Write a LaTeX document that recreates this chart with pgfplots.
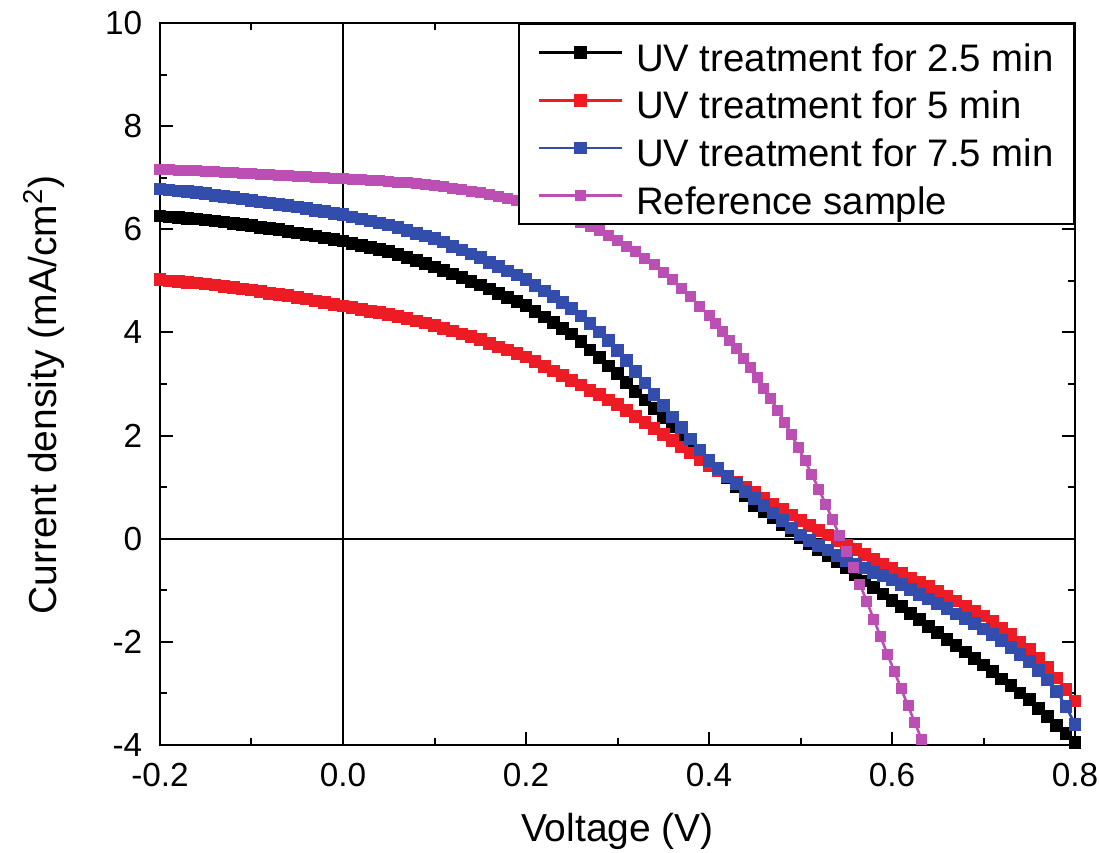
\documentclass[border=0pt]{standalone}
\usepackage{fontspec}
\setmainfont{Liberation Sans}
\usepackage{pgfplots}
\pgfplotsset{compat=1.18}
\definecolor{cRed}{RGB}{237,28,36}
\definecolor{cBlue}{RGB}{51,77,173}
\definecolor{cPurple}{RGB}{187,79,179}

\pgfplotstableread{
x y
-0.20 6.26
-0.19 6.24
-0.18 6.23
-0.17 6.21
-0.16 6.20
-0.15 6.18
-0.14 6.16
-0.13 6.14
-0.12 6.11
-0.11 6.09
-0.10 6.07
-0.09 6.04
-0.08 6.01
-0.07 5.99
-0.06 5.96
-0.05 5.93
-0.04 5.90
-0.03 5.87
-0.02 5.83
-0.01 5.80
0.00 5.77
0.01 5.73
0.02 5.69
0.03 5.65
0.04 5.61
0.05 5.57
0.06 5.51
0.07 5.45
0.08 5.39
0.09 5.33
0.10 5.27
0.11 5.20
0.12 5.13
0.13 5.06
0.14 4.99
0.15 4.92
0.16 4.84
0.17 4.76
0.18 4.68
0.19 4.60
0.20 4.52
0.21 4.41
0.22 4.30
0.23 4.19
0.24 4.08
0.25 3.97
0.26 3.82
0.27 3.66
0.28 3.51
0.29 3.35
0.30 3.20
0.31 3.03
0.32 2.86
0.33 2.69
0.34 2.52
0.35 2.35
0.36 2.18
0.37 2.02
0.38 1.85
0.39 1.69
0.40 1.52
0.41 1.35
0.42 1.18
0.43 1.00
0.44 0.83
0.45 0.65
0.46 0.52
0.47 0.40
0.48 0.27
0.49 0.15
0.50 0.02
0.51 -0.10
0.52 -0.22
0.53 -0.33
0.54 -0.45
0.55 -0.57
0.56 -0.70
0.57 -0.82
0.58 -0.95
0.59 -1.07
0.60 -1.20
0.61 -1.32
0.62 -1.45
0.63 -1.57
0.64 -1.70
0.65 -1.82
0.66 -1.95
0.67 -2.07
0.68 -2.20
0.69 -2.32
0.70 -2.45
0.71 -2.58
0.72 -2.72
0.73 -2.85
0.74 -2.99
0.75 -3.12
0.76 -3.29
0.77 -3.45
0.78 -3.62
0.79 -3.78
0.80 -3.95
}\tblack

\pgfplotstableread{
x y
-0.20 5.02
-0.19 5.00
-0.18 4.99
-0.17 4.97
-0.16 4.96
-0.15 4.94
-0.14 4.92
-0.13 4.89
-0.12 4.87
-0.11 4.84
-0.10 4.82
-0.09 4.79
-0.08 4.76
-0.07 4.74
-0.06 4.71
-0.05 4.68
-0.04 4.65
-0.03 4.61
-0.02 4.58
-0.01 4.54
0.00 4.51
0.01 4.48
0.02 4.45
0.03 4.41
0.04 4.38
0.05 4.35
0.06 4.31
0.07 4.27
0.08 4.22
0.09 4.18
0.10 4.14
0.11 4.08
0.12 4.03
0.13 3.97
0.14 3.92
0.15 3.86
0.16 3.79
0.17 3.72
0.18 3.66
0.19 3.59
0.20 3.52
0.21 3.43
0.22 3.34
0.23 3.25
0.24 3.16
0.25 3.07
0.26 2.98
0.27 2.88
0.28 2.79
0.29 2.69
0.30 2.60
0.31 2.48
0.32 2.37
0.33 2.25
0.34 2.14
0.35 2.02
0.36 1.90
0.37 1.78
0.38 1.66
0.39 1.54
0.40 1.42
0.41 1.31
0.42 1.21
0.43 1.10
0.44 1.00
0.45 0.89
0.46 0.78
0.47 0.67
0.48 0.57
0.49 0.46
0.50 0.35
0.51 0.26
0.52 0.16
0.53 0.07
0.54 -0.03
0.55 -0.12
0.56 -0.21
0.57 -0.30
0.58 -0.40
0.59 -0.49
0.60 -0.58
0.61 -0.67
0.62 -0.76
0.63 -0.84
0.64 -0.93
0.65 -1.02
0.66 -1.12
0.67 -1.21
0.68 -1.31
0.69 -1.40
0.70 -1.50
0.71 -1.61
0.72 -1.73
0.73 -1.86
0.74 -2.00
0.75 -2.15
0.76 -2.32
0.77 -2.50
0.78 -2.70
0.79 -2.92
0.80 -3.15
}\tred

\pgfplotstableread{
x y
-0.20 6.78
-0.19 6.76
-0.18 6.74
-0.17 6.73
-0.16 6.71
-0.15 6.69
-0.14 6.66
-0.13 6.64
-0.12 6.61
-0.11 6.59
-0.10 6.56
-0.09 6.53
-0.08 6.51
-0.07 6.48
-0.06 6.46
-0.05 6.43
-0.04 6.40
-0.03 6.37
-0.02 6.34
-0.01 6.31
0.00 6.28
0.01 6.24
0.02 6.20
0.03 6.16
0.04 6.12
0.05 6.08
0.06 6.03
0.07 5.98
0.08 5.92
0.09 5.87
0.10 5.82
0.11 5.75
0.12 5.67
0.13 5.60
0.14 5.52
0.15 5.45
0.16 5.36
0.17 5.28
0.18 5.19
0.19 5.11
0.20 5.02
0.21 4.91
0.22 4.80
0.23 4.69
0.24 4.58
0.25 4.46
0.26 4.32
0.27 4.17
0.28 4.01
0.29 3.84
0.30 3.65
0.31 3.45
0.32 3.24
0.33 3.02
0.34 2.80
0.35 2.58
0.36 2.36
0.37 2.15
0.38 1.93
0.39 1.72
0.40 1.52
0.41 1.36
0.42 1.21
0.43 1.07
0.44 0.92
0.45 0.78
0.46 0.64
0.47 0.50
0.48 0.35
0.49 0.21
0.50 0.07
0.51 -0.03
0.52 -0.13
0.53 -0.22
0.54 -0.32
0.55 -0.42
0.56 -0.50
0.57 -0.57
0.58 -0.65
0.59 -0.72
0.60 -0.80
0.61 -0.89
0.62 -0.98
0.63 -1.08
0.64 -1.17
0.65 -1.26
0.66 -1.36
0.67 -1.46
0.68 -1.55
0.69 -1.65
0.70 -1.75
0.71 -1.86
0.72 -1.98
0.73 -2.11
0.74 -2.24
0.75 -2.38
0.76 -2.55
0.77 -2.74
0.78 -2.96
0.79 -3.25
0.80 -3.60
}\tblue

\pgfplotstableread{
x y
-0.20 7.15
-0.19 7.15
-0.18 7.14
-0.17 7.14
-0.16 7.13
-0.15 7.12
-0.14 7.12
-0.13 7.11
-0.12 7.10
-0.11 7.09
-0.10 7.08
-0.09 7.07
-0.08 7.06
-0.07 7.05
-0.06 7.04
-0.05 7.03
-0.04 7.02
-0.03 7.01
-0.02 7.00
-0.01 6.99
0.00 6.98
0.01 6.97
0.02 6.96
0.03 6.95
0.04 6.94
0.05 6.93
0.06 6.91
0.07 6.90
0.08 6.88
0.09 6.86
0.10 6.84
0.11 6.82
0.12 6.79
0.13 6.77
0.14 6.74
0.15 6.71
0.16 6.68
0.17 6.64
0.18 6.60
0.19 6.56
0.20 6.51
0.21 6.46
0.22 6.41
0.23 6.35
0.24 6.29
0.25 6.22
0.26 6.14
0.27 6.06
0.28 5.97
0.29 5.88
0.30 5.78
0.31 5.67
0.32 5.56
0.33 5.44
0.34 5.31
0.35 5.17
0.36 5.02
0.37 4.86
0.38 4.69
0.39 4.51
0.4000 4.32
0.4075 4.17
0.4150 4.02
0.4225 3.85
0.4300 3.68
0.4375 3.50
0.4450 3.32
0.4525 3.12
0.4600 2.92
0.4675 2.71
0.4750 2.49
0.4825 2.26
0.4900 2.02
0.4975 1.77
0.5050 1.51
0.5125 1.24
0.5200 0.96
0.5275 0.67
0.5350 0.37
0.5425 0.07
0.5500 -0.24
0.5575 -0.56
0.5650 -0.89
0.5725 -1.22
0.5800 -1.56
0.5875 -1.90
0.5950 -2.24
0.6025 -2.57
0.6100 -2.91
0.6175 -3.24
0.6250 -3.57
0.6325 -3.90
0.6400 -4.23
}\tpurple

\begin{document}
\begin{tikzpicture}
\begin{axis}[
  scale only axis,
  width=274.5pt, height=216.6pt,
  xmin=-0.2, xmax=0.8, ymin=-4, ymax=10,
  xtick={-0.2,0,0.2,0.4,0.6,0.8},
  ytick={-4,-2,0,2,4,6,8,10},
  minor x tick num=1, minor y tick num=1,
  tick align=inside, tick pos=both,
  major tick length=4pt, minor tick length=2pt,
  axis line style={line width=0.6pt},
  every tick/.style={line width=0.6pt, black},
  /pgf/number format/assume math mode=true,
  ticklabel style={font=\fontsize{10}{12}\selectfont},
  xticklabel style={/pgf/number format/fixed, /pgf/number format/fixed zerofill, /pgf/number format/precision=1, yshift=-1.8pt},
  yticklabel style={xshift=-1.8pt},
  xlabel={Voltage (V)},
  ylabel={Current density (mA/cm\textsuperscript{2})},
  label style={font=\fontsize{11.7}{14}\selectfont},
  xlabel style={at={(axis description cs:0.5,-0.134)}, anchor=base},
  ylabel style={at={(axis description cs:-0.1126,0.485)}, anchor=base},
  legend style={at={(1,1)}, anchor=north east, draw=black, line width=0.6pt,
    font=\fontsize{11.5}{14}\selectfont, inner xsep=5.6pt, inner ysep=1.9pt,
    row sep=0.9pt, column sep=3.3pt,
    nodes={inner sep=0.5pt, text height=11.8pt, text depth=0.6pt}},
  legend cell align=left,
  legend image code/.code={\draw[mark repeat=2, mark phase=2] plot coordinates {(0pt,0pt) (12.5pt,0pt) (25pt,0pt)};},
]
\coordinate (SW) at (rel axis cs:0,0);
\coordinate (NE) at (rel axis cs:1,1);
\draw[line width=0.5pt] (axis cs:0,-4) -- (axis cs:0,10);
\draw[line width=0.5pt] (axis cs:-0.2,0) -- (axis cs:0.8,0);
\addplot[black, line width=0.8pt, mark=square*, mark size=1.5pt, mark options={solid}] table[x=x,y=y] {\tblack};
\addlegendentry{UV treatment for 2.5 min}
\addplot[cRed, line width=0.8pt, mark=square*, mark size=1.5pt, mark options={solid}] table[x=x,y=y] {\tred};
\addlegendentry{UV treatment for 5 min}
\addplot[cBlue, line width=0.8pt, mark=square*, mark size=1.5pt, mark options={solid}] table[x=x,y=y] {\tblue};
\addlegendentry{UV treatment for 7.5 min}
\addplot[cPurple, line width=0.8pt, mark=square*, mark size=1.25pt, mark options={solid}] table[x=x,y=y] {\tpurple};
\addlegendentry{Reference sample}
\end{axis}
\pgfresetboundingbox
\path ([shift={(-48pt,-32.4pt)}]SW) rectangle ([shift={(7.2pt,6.9pt)}]NE);
\end{tikzpicture}
\end{document}
